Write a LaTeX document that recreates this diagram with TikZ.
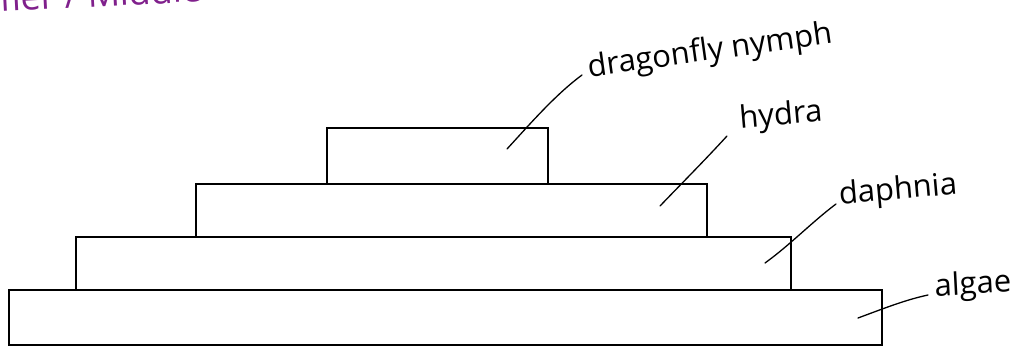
\documentclass[tikz,border=0pt]{standalone}
\usepackage{fontspec}
\setmainfont{Open Sans}
\definecolor{pen}{RGB}{128,32,140}
\begin{document}
\begin{tikzpicture}[x=1pt,y=-1pt,
  tier/.style={draw=black,line width=1.4pt},
  lead/.style={draw=black,line width=1.3pt,line cap=round},
  lbl/.style={font=\fontsize{31}{33}\selectfont, inner sep=0pt, text=black}]
\useasboundingbox (0,0) rectangle (1020,347);
\node[font=\fontsize{36}{38}\selectfont, text=pen, anchor=base west, inner sep=0pt, rotate=3] (top) at (0,12) {fier / Middle tier};
\draw[tier] (327,128) rectangle (548,184);
\draw[tier] (196,184) rectangle (707,237);
\draw[tier] (76,237) rectangle (791,290);
\draw[tier] (9,290) rectangle (882,345);
\node[lbl, rotate=8] (dn) at (710,52) {dragonfly nymph};
\node[lbl, rotate=5] (hy) at (781,117) {hydra};
\node[lbl, rotate=5] (da) at (898,191) {daphnia};
\node[lbl, rotate=3] (al) at (973,286) {algae};
\coordinate (dnE) at (507,149);
\coordinate (hyE) at (660,206);
\coordinate (daE) at (765,263);
\coordinate (alE) at (858,318);
\draw[lead] (dnE) .. controls (530,124) and (555,95) .. (582,75);
\draw[lead] (hyE) .. controls (685,180) and (705,160) .. (727,136);
\draw[lead] (daE) .. controls (790,245) and (812,222) .. (836,204);
\draw[lead] (alE) .. controls (885,308) and (905,300) .. (928,295);
\end{tikzpicture}
\end{document}
